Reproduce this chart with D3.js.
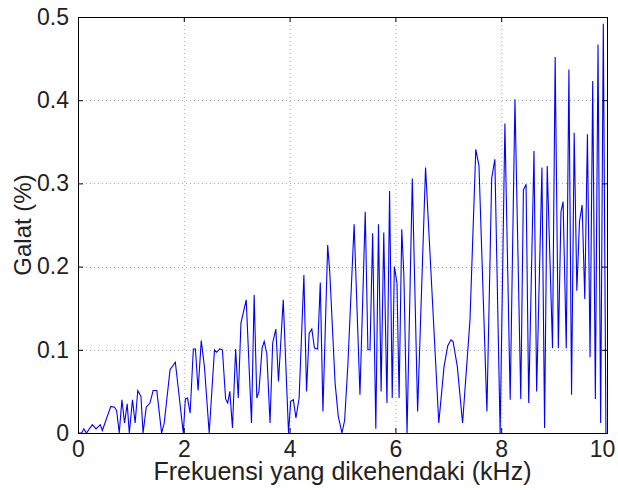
<!DOCTYPE html>
<html>
<head>
<meta charset="utf-8">
<script src="https://cdn.jsdelivr.net/npm/d3@7"></script>
<style>
  body { margin: 0; background: #fff; }
  svg { display: block; font-family: "Liberation Sans", Arial, sans-serif; }
</style>
</head>
<body>
<div id="wrapper"></div>
<script>
// frequency (kHz) and error (%)
const freqKHz = [
  0.02, 0.07, 0.11, 0.16, 0.27, 0.34, 0.42, 0.46, 0.62, 0.69, 0.73, 0.78, 0.83, 0.88, 0.93, 0.97,
  1.03, 1.08, 1.13, 1.19, 1.23, 1.29, 1.36, 1.42, 1.49, 1.58, 1.63, 1.74, 1.84, 1.99,
  2.03, 2.07, 2.12, 2.18, 2.22, 2.27, 2.33, 2.39, 2.48, 2.58, 2.62, 2.68, 2.73, 2.79, 2.83, 2.87, 2.92, 2.98,
  3.03, 3.08, 3.18, 3.28, 3.33, 3.38, 3.42, 3.48, 3.52, 3.57, 3.63, 3.68, 3.74, 3.79, 3.88, 3.98,
  4.02, 4.07, 4.12, 4.18, 4.27, 4.32, 4.37, 4.42, 4.47, 4.53, 4.58, 4.63, 4.72, 4.76, 4.86, 4.92, 4.99,
  5.04, 5.10, 5.22, 5.33, 5.43, 5.48, 5.52, 5.57, 5.63, 5.68, 5.73, 5.78, 5.84, 5.89, 5.94, 5.98,
  6.03, 6.07, 6.12, 6.16, 6.22, 6.32, 6.42, 6.57, 6.82, 6.92, 6.99,
  7.05, 7.09, 7.17, 7.27, 7.41, 7.52, 7.58, 7.73, 7.82, 7.88, 7.98,
  8.07, 8.17, 8.26, 8.37, 8.42, 8.47, 8.52, 8.62, 8.67, 8.77, 8.82, 8.87, 8.97,
  9.02, 9.08, 9.13, 9.17, 9.23, 9.28, 9.33, 9.38, 9.43, 9.48, 9.53, 9.58, 9.63, 9.68, 9.73, 9.78, 9.83, 9.88, 9.93, 9.98
];
const galat = [
  0, 0, 0.005, 0, 0.010, 0.005, 0.010, 0.003, 0.032, 0.031, 0.027, 0, 0.040, 0.012, 0.035, 0,
  0.040, 0.012, 0.051, 0.044, 0, 0.031, 0.036, 0.051, 0.051, 0, 0.012, 0.076, 0.085, 0,
  0.041, 0.042, 0.024, 0.101, 0.101, 0.051, 0.111, 0.080, 0, 0.100, 0.097, 0.101, 0.100, 0.041, 0.036, 0.050, 0.006, 0.101,
  0.042, 0.132, 0.160, 0.012, 0.166, 0.042, 0.050, 0.102, 0.110, 0.095, 0.012, 0.108, 0.125, 0.062, 0.160, 0,
  0.038, 0.040, 0.018, 0.042, 0.190, 0.050, 0.120, 0.125, 0.102, 0.101, 0.181, 0.026, 0.226, 0.192, 0.060, 0.020, 0,
  0.015, 0.080, 0.251, 0.046, 0.266, 0.100, 0.100, 0.240, 0.005, 0.251, 0.050, 0.241, 0.036, 0.291, 0.042, 0.200,
  0.180, 0.042, 0.245, 0.190, 0, 0.306, 0.026, 0.319, 0.012, 0.080, 0.105,
  0.112, 0.110, 0.080, 0.012, 0.136, 0.341, 0.321, 0.026, 0.306, 0.329, 0,
  0.372, 0.040, 0.401, 0.041, 0.292, 0.299, 0.036, 0.339, 0.050, 0.319, 0.006, 0.321, 0.102,
  0.452, 0.102, 0.266, 0.278, 0.102, 0.437, 0.046, 0.361, 0.171, 0.254, 0.274, 0.161, 0.359, 0.091, 0.423, 0.041, 0.467, 0.012, 0.492, 0
];
const xTicks = [0, 2, 4, 6, 8, 10];
const yTicks = [0, 0.1, 0.2, 0.3, 0.4, 0.5];

const data = freqKHz.map((f, i) => ({ f, g: galat[i] }));

let dimensions = {
  width: 618,
  height: 490,
  margin: { top: 17, right: 11, bottom: 57, left: 78 }
};
dimensions.boundedWidth = dimensions.width - dimensions.margin.left - dimensions.margin.right;
dimensions.boundedHeight = dimensions.height - dimensions.margin.top - dimensions.margin.bottom;

const wrapper = d3.select("#wrapper")
  .append("svg")
  .attr("width", dimensions.width)
  .attr("height", dimensions.height);

const bounds = wrapper.append("g")
  .attr("transform", `translate(${dimensions.margin.left},${dimensions.margin.top})`);

const xScale = d3.scaleLinear()
  .domain([0, 10])
  .range([0, dimensions.boundedWidth]);

const yScale = d3.scaleLinear()
  .domain([0, 0.5])
  .range([dimensions.boundedHeight, 0]);

// dotted grid
bounds.append("g")
  .selectAll("line")
  .data(xTicks.slice(1, -1))
  .join("line")
  .attr("x1", (d) => xScale(d) + 0.5)
  .attr("x2", (d) => xScale(d) + 0.5)
  .attr("y1", 0)
  .attr("y2", dimensions.boundedHeight)
  .attr("stroke", "#a8a8a8")
  .attr("stroke-dasharray", "1,3");

bounds.append("g")
  .selectAll("line")
  .data(yTicks.slice(1, -1))
  .join("line")
  .attr("y1", (d) => Math.round(yScale(d)) + 0.5)
  .attr("y2", (d) => Math.round(yScale(d)) + 0.5)
  .attr("x1", 0)
  .attr("x2", dimensions.boundedWidth)
  .attr("stroke", "#a8a8a8")
  .attr("stroke-dasharray", "1,3");

// the curve
const lineGenerator = d3.line()
  .x((d) => xScale(d.f))
  .y((d) => yScale(d.g));

bounds.append("path")
  .attr("d", lineGenerator(data))
  .attr("fill", "none")
  .attr("stroke", "#0000ff")
  .attr("stroke-width", 1.1);

// axes, ticks inside (matlab style)
const xAxisGenerator = d3.axisBottom(xScale)
  .tickValues(xTicks)
  .tickFormat(d3.format("d"))
  .tickSizeInner(-5)
  .tickSizeOuter(0)
  .tickPadding(8);

const xAxis = bounds.append("g")
  .attr("transform", `translate(0,${dimensions.boundedHeight})`)
  .call(xAxisGenerator);

const yAxisGenerator = d3.axisLeft(yScale)
  .tickValues(yTicks)
  .tickFormat((d) => (d === 0 ? "0" : d3.format(".1f")(d)))
  .tickSizeInner(-5)
  .tickSizeOuter(0)
  .tickPadding(9);

const yAxis = bounds.append("g").call(yAxisGenerator);

const xAxisTop = bounds.append("g")
  .call(d3.axisTop(xScale).tickValues(xTicks).tickSizeInner(-5).tickSizeOuter(0).tickFormat(""));

const yAxisRight = bounds.append("g")
  .attr("transform", `translate(${dimensions.boundedWidth},0)`)
  .call(d3.axisRight(yScale).tickValues(yTicks).tickSizeInner(-5).tickSizeOuter(0).tickFormat(""));

[xAxis, yAxis, xAxisTop, yAxisRight].forEach((ax) => {
  ax.select(".domain").remove();
  ax.selectAll("line").attr("stroke", "#000");
});

xAxis.selectAll("text")
  .attr("font-size", 23)
  .attr("fill", "#222")
  .attr("font-family", "Liberation Sans, Arial, sans-serif")
  .attr("dx", (d) => (d === 10 ? -5 : 0));

yAxis.selectAll("text")
  .attr("font-size", 23)
  .attr("fill", "#222")
  .attr("font-family", "Liberation Sans, Arial, sans-serif");

// box
bounds.append("rect")
  .attr("x", 0.5)
  .attr("y", 0.5)
  .attr("width", dimensions.boundedWidth)
  .attr("height", dimensions.boundedHeight)
  .attr("fill", "none")
  .attr("stroke", "#000");

// labels
wrapper.append("text")
  .attr("x", dimensions.margin.left + dimensions.boundedWidth / 2)
  .attr("y", 480)
  .attr("text-anchor", "middle")
  .attr("font-size", 25)
  .attr("fill", "#222")
  .text("Frekuensi yang dikehendaki (kHz)");

wrapper.append("text")
  .attr("transform", `translate(31,${dimensions.margin.top + dimensions.boundedHeight / 2}) rotate(-90)`)
  .attr("text-anchor", "middle")
  .attr("font-size", 24)
  .attr("fill", "#222")
  .text("Galat (%)");
</script>
</body>
</html>
